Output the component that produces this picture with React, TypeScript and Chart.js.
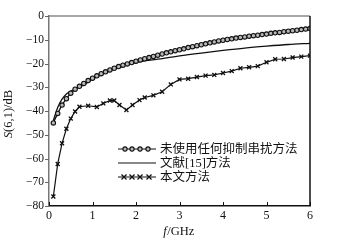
import { useEffect, useRef } from 'react';
import { Chart, registerables } from 'chart.js';

Chart.register(...registerables);

// ---- data ----
const freqNone = [
  0.1, 0.2, 0.3, 0.4, 0.5, 0.6, 0.7, 0.8, 0.9, 1.0,
  1.1, 1.2, 1.3, 1.4, 1.5, 1.6, 1.7, 1.8, 1.9, 2.0,
  2.1, 2.2, 2.3, 2.4, 2.5, 2.6, 2.7, 2.8, 2.9, 3.0,
  3.1, 3.2, 3.3, 3.4, 3.5, 3.6, 3.7, 3.8, 3.9, 4.0,
  4.1, 4.2, 4.3, 4.4, 4.5, 4.6, 4.7, 4.8, 4.9, 5.0,
  5.1, 5.2, 5.3, 5.4, 5.5, 5.6, 5.7, 5.8, 5.9, 6.0,
];
const noSuppression = [
  -45, -41, -37.5, -34.8, -32.5, -30.8, -29.6, -28.4, -27.2, -26.2,
  -25.2, -24.3, -23.5, -22.7, -22.0, -21.3, -20.7, -20.2, -19.6, -19.0,
  -18.5, -18.0, -17.5, -17.0, -16.5, -16.0, -15.5, -15.1, -14.6, -14.2,
  -13.8, -13.3, -12.9, -12.5, -12.1, -11.7, -11.3, -10.9, -10.5, -10.2,
  -9.9, -9.6, -9.3, -9.0, -8.8, -8.5, -8.3, -8.1, -7.8, -7.6,
  -7.3, -7.1, -6.9, -6.6, -6.4, -6.2, -6.0, -5.7, -5.5, -5.3,
];

const freqRef = [0.1, 0.2, 0.3, 0.4, 0.5, 0.6, 0.8, 1.0, 1.5, 2.0, 2.5, 3.0, 3.5, 4.0, 4.5, 5.0, 5.5, 6.0];
const ref15 = [-44, -38.5, -35, -32.8, -31.6, -30.8, -29, -26.6, -22.4, -19.6, -18.2, -16.8, -15.6, -14.5, -13.5, -12.7, -12.0, -11.5];

const freqOurs = [
  0.1, 0.2, 0.3, 0.4, 0.5, 0.6, 0.7, 0.9, 1.1, 1.25,
  1.4, 1.5, 1.62, 1.78, 1.92, 2.08, 2.2, 2.4, 2.6, 2.8,
  3.0, 3.2, 3.4, 3.6, 3.8, 4.0, 4.2, 4.4, 4.6, 4.8,
  5.0, 5.2, 5.4, 5.6, 5.8, 6.0,
];
const ours = [
  -76, -62.3, -53.6, -47.5, -43.2, -40.2, -38.2, -37.8, -38.3, -36.8,
  -35.6, -35.6, -37.5, -39.6, -37.5, -35.4, -34.3, -33.4, -31.9, -28.8,
  -26.7, -26.4, -25.7, -25.1, -24.8, -24.0, -23.2, -22.0, -21.6, -21.1,
  -19.5, -18.2, -18.1, -17.5, -17.1, -16.7,
];

const xTickValues = [0, 1, 2, 3, 4, 5, 6];
const yTickValues = [0, -10, -20, -30, -40, -50, -60, -70, -80];
const legendLabels = ['未使用任何抑制串扰方法', '文献[15]方法', '本文方法'];
const xTitleItalic = 'f';
const xTitleRest = '/GHz';
const yTitleItalic = 'S';
const yTitleRest = '(6,1)/dB';

const SERIF = '"Liberation Serif", "Times New Roman", serif';
const LEGEND_FONT = '12.5px "Liberation Serif", "Noto Sans CJK SC", serif';
const CIRCLE_FILL = '#b8b8b8';

const toXY = (xs: number[], ys: number[]) => xs.map((x, i) => ({ x, y: ys[i] }));

function drawCircle(ctx: CanvasRenderingContext2D, x: number, y: number, r: number) {
  ctx.beginPath();
  ctx.arc(x, y, r, 0, Math.PI * 2);
  ctx.fillStyle = CIRCLE_FILL;
  ctx.fill();
  ctx.lineWidth = 1.1;
  ctx.strokeStyle = '#111';
  ctx.stroke();
}
function drawCross(ctx: CanvasRenderingContext2D, x: number, y: number, r: number) {
  ctx.beginPath();
  ctx.moveTo(x - r, y - r);
  ctx.lineTo(x + r, y + r);
  ctx.moveTo(x - r, y + r);
  ctx.lineTo(x + r, y - r);
  ctx.lineWidth = 1.3;
  ctx.strokeStyle = '#111';
  ctx.stroke();
}

const decorPlugin = {
  id: 'decor',
  afterDraw(chart: any) {
    const ctx: CanvasRenderingContext2D = chart.ctx;
    const { left, right, top, bottom } = chart.chartArea;
    const xs = chart.scales.x;
    const ys = chart.scales.y;
    ctx.save();
    // top border (gray) and right border (black)
    ctx.lineWidth = 1.5;
    ctx.strokeStyle = '#8a8a8a';
    ctx.beginPath();
    ctx.moveTo(left, top);
    ctx.lineTo(right, top);
    ctx.stroke();
    ctx.strokeStyle = '#111';
    ctx.beginPath();
    ctx.moveTo(right, top);
    ctx.lineTo(right, bottom);
    ctx.stroke();
    // x ticks (inward)
    ctx.lineWidth = 1;
    ctx.strokeStyle = '#111';
    xTickValues.forEach((v) => {
      const px = Math.round(xs.getPixelForValue(v)) + 0.5;
      ctx.beginPath();
      ctx.moveTo(px, bottom);
      ctx.lineTo(px, bottom - 4);
      ctx.stroke();
    });
    // y ticks (outward)
    ctx.strokeStyle = '#666';
    yTickValues.forEach((v) => {
      const py = Math.round(ys.getPixelForValue(v)) + 0.5;
      ctx.beginPath();
      ctx.moveTo(left, py);
      ctx.lineTo(left - 4, py);
      ctx.stroke();
    });
    // x title
    ctx.fillStyle = '#111';
    ctx.textBaseline = 'middle';
    ctx.font = `italic 12.5px ${SERIF}`;
    const wi = ctx.measureText(xTitleItalic).width;
    ctx.font = `12.5px ${SERIF}`;
    const wr = ctx.measureText(xTitleRest).width;
    const cx = (left + right) / 2 - 1;
    let sx = cx - (wi + wr) / 2;
    ctx.font = `italic 12.5px ${SERIF}`;
    ctx.textAlign = 'left';
    ctx.fillText(xTitleItalic, sx, 232);
    ctx.font = `12.5px ${SERIF}`;
    ctx.fillText(xTitleRest, sx + wi + 0.5, 232);
    // y title (rotated)
    ctx.save();
    ctx.translate(9, (top + bottom) / 2 + 3);
    ctx.rotate(-Math.PI / 2);
    ctx.font = `italic 12.5px ${SERIF}`;
    const ywi = ctx.measureText(yTitleItalic).width;
    ctx.font = `12.5px ${SERIF}`;
    const ywr = ctx.measureText(yTitleRest).width;
    sx = -(ywi + ywr) / 2;
    ctx.font = `italic 12.5px ${SERIF}`;
    ctx.fillText(yTitleItalic, sx, 0);
    ctx.font = `12.5px ${SERIF}`;
    ctx.fillText(yTitleRest, sx + ywi, 0);
    ctx.restore();
    // legend
    const lx0 = 118;
    const lx1 = 156;
    const rows = [149, 163, 177];
    rows.forEach((ry, i) => {
      ctx.lineWidth = 1.2;
      ctx.strokeStyle = '#111';
      ctx.beginPath();
      ctx.moveTo(lx0, ry);
      ctx.lineTo(lx1, ry);
      ctx.stroke();
      if (i === 0) {
        [125, 132, 140, 148].forEach((mx) => drawCircle(ctx, mx, ry, 2.1));
      } else if (i === 2) {
        [124, 132, 140, 149].forEach((mx) => drawCross(ctx, mx, ry, 2.5));
      }
      ctx.fillStyle = '#111';
      ctx.font = LEGEND_FONT;
      ctx.textAlign = 'left';
      ctx.textBaseline = 'middle';
      ctx.fillText(legendLabels[i], 160, ry + 0.5);
    });
    ctx.restore();
  },
};

export default function App() {
  const ref = useRef<HTMLCanvasElement | null>(null);
  useEffect(() => {
    document.body.style.margin = '0';
    const canvas = ref.current;
    if (!canvas) return;
    const chart = new Chart(canvas, {
      type: 'line',
      data: {
        datasets: [
          {
            label: legendLabels[0],
            data: toXY(freqNone, noSuppression),
            borderColor: '#111',
            borderWidth: 1.3,
            pointStyle: 'circle',
            pointRadius: 2.2,
            pointBackgroundColor: CIRCLE_FILL,
            pointBorderColor: '#111',
            pointBorderWidth: 1.1,
            tension: 0.2,
          },
          {
            label: legendLabels[1],
            data: toXY(freqRef, ref15),
            borderColor: '#111',
            borderWidth: 1.3,
            pointRadius: 0,
            cubicInterpolationMode: 'monotone',
          },
          {
            label: legendLabels[2],
            data: toXY(freqOurs, ours),
            borderColor: '#111',
            borderWidth: 1.2,
            pointStyle: 'crossRot',
            pointRadius: 2.8,
            pointBorderColor: '#111',
            pointBorderWidth: 1.3,
            tension: 0,
          },
        ],
      },
      options: {
        responsive: false,
        animation: false,
        devicePixelRatio: 1,
        layout: { padding: { left: 0, right: 32, top: 16, bottom: 0 } },
        plugins: {
          legend: { display: false },
          tooltip: { enabled: false },
        },
        scales: {
          x: {
            type: 'linear',
            min: 0,
            max: 6,
            afterFit: (s: any) => {
              s.height = 42;
            },
            afterBuildTicks: (s: any) => {
              s.ticks = xTickValues.map((v) => ({ value: v }));
            },
            grid: { display: false, drawTicks: false },
            border: { display: true, color: '#111', width: 1.5 },
            ticks: {
              padding: 3,
              color: '#111',
              font: { family: SERIF, size: 12 },
              maxRotation: 0,
            },
          },
          y: {
            type: 'linear',
            min: -80,
            max: 0,
            afterFit: (s: any) => {
              s.width = 49;
            },
            afterBuildTicks: (s: any) => {
              s.ticks = yTickValues.map((v) => ({ value: v }));
            },
            grid: { display: false, drawTicks: false },
            border: { display: true, color: '#777', width: 1.5 },
            ticks: {
              padding: 5,
              color: '#111',
              font: { family: SERIF, size: 11.5 },
              callback: (v: any) => (Number(v) < 0 ? '\u2212' + Math.abs(Number(v)) : String(v)),
            },
          },
        },
      },
      plugins: [decorPlugin],
    });
    return () => chart.destroy();
  }, []);
  return <canvas ref={ref} width={342} height={248} style={{ display: 'block', width: 342, height: 248 }} />;
}
